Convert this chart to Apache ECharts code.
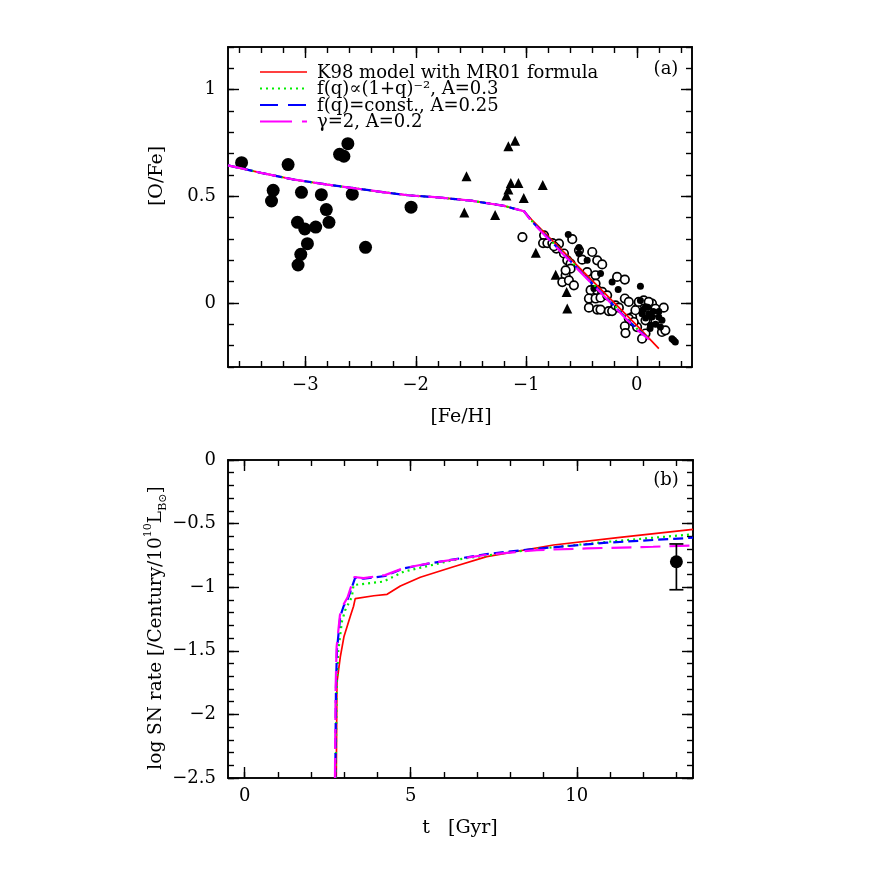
<!DOCTYPE html>
<html><head><meta charset="utf-8">
<script src="https://cdn.jsdelivr.net/npm/echarts@6/dist/echarts.min.js"></script>
<style>html,body{margin:0;padding:0;background:#fff}#c{width:872px;height:872px}</style>
</head><body><div id="c"></div>
<script>
// ---------- tick labels ----------
const fehTicks = [-3, -2, -1, 0];
const ofeTicks = [0, 0.5, 1];
const tTicks = [0, 5, 10];
const snTicks = [-2.5, -2, -1.5, -1, -0.5, 0];

// ---------- legend ----------
const legendNames = ['K98 model with MR01 formula', 'f(q)∝(1+q)⁻², A=0.3', 'f(q)=const., A=0.25', 'γ=2, A=0.2'];

// ---------- panel (a): models [Fe/H] vs [O/Fe] ----------
const modelRedA = [[-3.7,0.645],[-3.4,0.61],[-3.1,0.578],[-2.8,0.555],[-2.6,0.541],[-2.3,0.52],[-2.07,0.505],[-1.8,0.495],[-1.5,0.48],[-1.2,0.455],[-1.02,0.43],[-0.95,0.39],[-0.5,0.155],[0,-0.105],[0.2,-0.214]];
const modelGreenA = [[-3.7,0.645],[-3.4,0.61],[-3.1,0.578],[-2.8,0.555],[-2.6,0.541],[-2.3,0.52],[-2.07,0.505],[-1.8,0.495],[-1.5,0.48],[-1.2,0.455],[-1.02,0.43],[-0.95,0.385],[-0.5,0.145],[0,-0.12],[0.12,-0.17]];
const modelBlueA = [[-3.7,0.645],[-3.4,0.61],[-3.1,0.578],[-2.8,0.555],[-2.6,0.541],[-2.3,0.52],[-2.07,0.505],[-1.8,0.495],[-1.5,0.48],[-1.2,0.455],[-1.02,0.43],[-0.95,0.383],[-0.5,0.143],[0,-0.122],[0.12,-0.172]];
const modelMagentaA = [[-3.7,0.645],[-3.4,0.61],[-3.1,0.578],[-2.8,0.555],[-2.6,0.541],[-2.3,0.52],[-2.07,0.505],[-1.8,0.495],[-1.5,0.48],[-1.2,0.455],[-1.02,0.43],[-0.95,0.38],[-0.5,0.14],[0,-0.125],[0.11,-0.17]];

// ---------- panel (a): observations ----------
const haloBig = [[-3.577,0.658],[-3.156,0.649],[-3.291,0.528],[-3.306,0.478],[-3.035,0.519],[-2.855,0.508],[-2.81,0.438],[-3.071,0.378],[-3.005,0.347],[-2.906,0.356],[-2.786,0.378],[-2.981,0.278],[-3.041,0.228],[-3.066,0.178],[-2.69,0.697],[-2.651,0.688],[-2.615,0.747],[-2.575,0.51],[-2.455,0.261],[-2.043,0.449]];
const triangles = [[-1.541,0.594],[-1.561,0.424],[-1.162,0.735],[-1.101,0.76],[-1.14,0.563],[-1.071,0.563],[-1.162,0.532],[-1.18,0.504],[-0.851,0.553],[-1.023,0.492],[-1.282,0.413],[-0.914,0.236],[-0.734,0.133],[-0.635,0.052],[-0.629,-0.026]];
const openCircles = [[-1.035,0.309],[-0.839,0.317],[-0.848,0.281],[-0.809,0.281],[-0.764,0.281],[-0.704,0.278],[-0.728,0.255],[-0.749,0.266],[-0.659,0.232],[-0.584,0.299],[-0.629,0.2],[-0.599,0.185],[-0.599,0.161],[-0.644,0.13],[-0.674,0.098],[-0.614,0.106],[-0.569,0.083],[-0.644,0.153],[-0.523,0.247],[-0.494,0.203],[-0.403,0.239],[-0.358,0.2],[-0.313,0.181],[-0.449,0.145],[-0.373,0.13],[-0.373,0.091],[-0.418,0.06],[-0.358,0.06],[-0.313,0.052],[-0.433,0.021],[-0.373,0.021],[-0.328,0.025],[-0.268,0.036],[-0.433,-0.022],[-0.358,-0.031],[-0.328,-0.031],[-0.253,-0.038],[-0.223,-0.038],[-0.178,0.122],[-0.108,0.11],[-0.193,-0.011],[-0.108,0.021],[-0.072,0.005],[0.003,-0.027],[-0.042,-0.066],[-0.012,-0.034],[-0.108,-0.109],[-0.102,-0.141],[0.003,-0.113],[0.079,-0.143],[0.048,-0.167],[0.079,-0.081],[0.138,-0.003],[0.169,-0.027],[0.244,-0.022],[0.169,-0.081],[0.228,-0.136],[0.259,-0.128],[0.018,0.005],[0.063,0.012],[0.108,0.005],[-0.162,-0.022],[-0.072,-0.073],[-0.027,-0.089]];
const smallFilled = [[-0.62,0.321],[-0.523,0.26],[-0.523,0.232],[-0.449,0.2],[-0.328,0.138],[-0.388,0.068],[-0.168,0.063],[0.033,0.078],[-0.223,0.098],[0.033,0.012],[0.079,-0.018],[0.108,-0.05],[0.138,-0.066],[0.199,-0.066],[0.228,-0.081],[0.214,-0.113],[0.319,-0.167],[0.349,-0.183],[0.334,-0.175],[0.124,-0.104],[0.048,-0.05],[0.06,-0.03],[0.1,-0.02],[0.15,-0.04],[0.17,-0.1],[0.08,-0.07],[0.12,-0.12],[0.2,-0.04]];

// ---------- panel (b): SN rate vs t ----------
const snRed = [[2.76,-2.5],[2.78,-1.75],[2.88,-1.55],[2.99,-1.39],[3.18,-1.23],[3.28,-1.15],[3.33,-1.09],[3.89,-1.067],[4.29,-1.056],[4.69,-0.99],[5.29,-0.922],[6.29,-0.839],[7.29,-0.76],[9.3,-0.668],[11.3,-0.608],[13.5,-0.545]];
const snGreen = [[2.74,-2.5],[2.77,-1.8],[2.82,-1.5],[2.93,-1.27],[3.03,-1.18],[3.23,-1.075],[3.28,-0.983],[4.18,-0.956],[4.79,-0.878],[6.29,-0.786],[8.69,-0.702],[11.3,-0.634],[13.5,-0.584]];
const snBlue = [[2.73,-2.5],[2.75,-1.8],[2.78,-1.49],[2.88,-1.23],[2.98,-1.15],[3.11,-1.09],[3.33,-0.925],[3.58,-0.933],[4.23,-0.912],[4.79,-0.852],[5.59,-0.812],[7.29,-0.739],[8.6,-0.702],[10.9,-0.65],[13.5,-0.611]];
const snMagenta = [[2.72,-2.5],[2.74,-1.8],[2.77,-1.47],[2.87,-1.22],[2.97,-1.14],[3.1,-1.08],[3.3,-0.92],[3.58,-0.928],[4.23,-0.905],[4.79,-0.85],[5.59,-0.81],[7.29,-0.745],[8.8,-0.708],[10.3,-0.695],[12.3,-0.682],[13.5,-0.672]];
const snObs = [[13.0, -0.8, -1.02, -0.66]]; // t, value, low, high

const FONT = 'DejaVu Serif';
const fmt = v => String(+v.toFixed(2)).replace('-', '\u2212');
function minors(min, max, step) {
  const out = [];
  for (let k = Math.ceil(min / step - 1e-9); k * step <= max + 1e-9; k++) out.push(+(k * step).toFixed(6));
  return out;
}
function axes(kind, grid, min, max, majors, minorStep) {
  const list = [];
  const positions = kind === 'x' ? ['bottom', 'top'] : ['left', 'right'];
  positions.forEach((pos, i) => {
    [true, false].forEach(isMajor => {
      list.push({
        type: 'value', gridIndex: grid, position: pos, min, max,
        axisLine: {show: true, onZero: false, lineStyle: {color: '#000', width: 1.6}},
        splitLine: {show: false},
        axisTick: {show: true, inside: true, length: isMajor ? 11 : 6, lineStyle: {color: '#000', width: 1.4},
                   customValues: isMajor ? majors : minors(min, max, minorStep)},
        axisLabel: {show: isMajor && i === 0, customValues: majors, formatter: fmt,
                    fontFamily: FONT, fontSize: 18, color: '#000', margin: kind === 'x' ? 9 : 12}
      });
    });
  });
  return list;
}
const xAxes = [].concat(axes('x', 0, -3.7, 0.5, fehTicks, 0.2), axes('x', 1, -0.5, 13.5, tTicks, 1));
const yAxes = [].concat(axes('y', 0, -0.3, 1.2, ofeTicks, 0.1), axes('y', 1, -2.5, 0, snTicks, 0.1));

const colors = ['#ff0000', '#00ee00', '#0000ff', '#ff00ff'];
const dashes = ['solid', [2, 4], [10, 5], [20, 9]];
const widths = [1.7, 2.2, 2.2, 2.2];
function lineSeries(data, i, gi) {
  return {type: 'line', xAxisIndex: gi * 4, yAxisIndex: gi * 4, data, showSymbol: false, symbol: 'none',
          lineStyle: {color: colors[i], type: dashes[i], width: widths[i]}, z: 5 + i, animation: false};
}
function scat(data, symbol, size, filled) {
  return {type: 'scatter', xAxisIndex: 0, yAxisIndex: 0, data, symbol, symbolSize: size, animation: false,
          itemStyle: filled ? {color: '#000', opacity: 1} : {color: '#fff', borderColor: '#000', borderWidth: 1.7, opacity: 1}, z: 3};
}

const series = [
  scat(haloBig, 'circle', 13, true),
  scat(triangles, 'triangle', 10, true),
  scat(openCircles, 'circle', 8.5, false),
  scat(smallFilled, 'circle', 7, true),
  lineSeries(modelRedA, 0, 0), lineSeries(modelGreenA, 1, 0), lineSeries(modelBlueA, 2, 0), lineSeries(modelMagentaA, 3, 0),
  lineSeries(snRed, 0, 1), lineSeries(snGreen, 1, 1), lineSeries(snBlue, 2, 1), lineSeries(snMagenta, 3, 1),
  {type: 'scatter', xAxisIndex: 4, yAxisIndex: 4, data: snObs.map(d => [d[0], d[1]]), symbol: 'circle', symbolSize: 13,
   itemStyle: {color: '#000', opacity: 1}, z: 10, animation: false},
  {type: 'custom', xAxisIndex: 4, yAxisIndex: 4, data: snObs.map(d => [d[0], d[2], d[3]]), z: 9, animation: false,
   encode: {x: 0, y: [1, 2]},
   renderItem: function (params, api) {
     const lo = api.coord([api.value(0), api.value(1)]);
     const hi = api.coord([api.value(0), api.value(2)]);
     const st = {stroke: '#000', lineWidth: 1.7};
     return {type: 'group', children: [
       {type: 'line', shape: {x1: lo[0], y1: lo[1], x2: hi[0], y2: hi[1]}, style: st},
       {type: 'line', shape: {x1: lo[0] - 7, y1: lo[1], x2: lo[0] + 7, y2: lo[1]}, style: st},
       {type: 'line', shape: {x1: hi[0] - 7, y1: hi[1], x2: hi[0] + 7, y2: hi[1]}, style: st}
     ]};
   }}
];

// legend drawn as graphics
const legendDash = [null, [2, 4], [18, 10], [32, 10]];
const legendG = [];
legendNames.forEach((name, i) => {
  const y = 72 + i * 16.5;
  legendG.push({type: 'line', shape: {x1: 260, y1: y, x2: 307, y2: y},
    style: {stroke: colors[i], lineWidth: widths[i], lineDash: legendDash[i]}, z: 20});
  legendG.push({type: 'text', x: 317, y: y + 1, style: {text: name, font: '18px "DejaVu Serif"', fill: '#000', verticalAlign: 'middle'}, z: 20});
});

const chart = echarts.init(document.getElementById('c'), null, {renderer: 'canvas'});
chart.setOption({
  backgroundColor: '#fff',
  animation: false,
  grid: [{left: 228, top: 47, width: 464, height: 320}, {left: 228, top: 460, width: 465, height: 318}],
  xAxis: xAxes,
  yAxis: yAxes,
  series,
  graphic: legendG.concat([
    {type: 'text', x: 666, y: 69, style: {text: '(a)', font: '18px "DejaVu Serif"', fill: '#000', align: 'center', verticalAlign: 'middle'}},
    {type: 'text', x: 666, y: 480, style: {text: '(b)', font: '18px "DejaVu Serif"', fill: '#000', align: 'center', verticalAlign: 'middle'}},
    {type: 'text', x: 461, y: 417, style: {text: '[Fe/H]', font: '19px "DejaVu Serif"', fill: '#000', align: 'center', verticalAlign: 'middle'}},
    {type: 'text', x: 460, y: 828, style: {text: 't   [Gyr]', font: '19px "DejaVu Serif"', fill: '#000', align: 'center', verticalAlign: 'middle'}},
    {type: 'text', x: 157, y: 176, rotation: Math.PI / 2, style: {text: '[O/Fe]', font: '19px "DejaVu Serif"', fill: '#000', align: 'center', verticalAlign: 'middle'}},
    {type: 'text', x: 156, y: 628, rotation: Math.PI / 2, style: {
      text: '{a|log SN rate [/Century/10}{sup|10}{a|L}{sub|B⊙}{a|]}',
      align: 'center', verticalAlign: 'middle',
      rich: {
        a: {fontFamily: FONT, fontSize: 18.5, lineHeight: 26, verticalAlign: 'middle', fill: '#000'},
        sup: {fontFamily: FONT, fontSize: 11, lineHeight: 26, verticalAlign: 'top', fill: '#000'},
        sub: {fontFamily: FONT, fontSize: 11, lineHeight: 26, verticalAlign: 'bottom', fill: '#000'}
      }}}
  ])
});
</script></body></html>
